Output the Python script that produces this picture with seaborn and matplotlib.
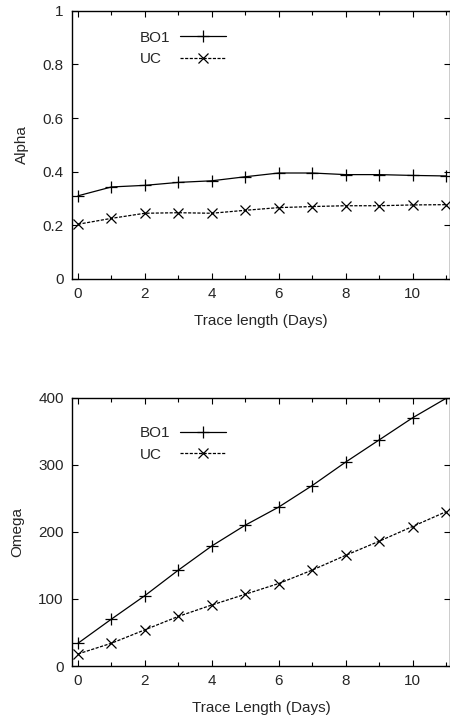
import pandas as pd
import matplotlib
matplotlib.use('Agg')
import matplotlib.pyplot as plt
import seaborn as sns
from matplotlib.ticker import MultipleLocator

# --- Data ---
days = list(range(12))
alpha_bo1 = [0.31, 0.343, 0.349, 0.36, 0.366, 0.381, 0.395, 0.395, 0.389, 0.389, 0.386, 0.384]
alpha_uc = [0.204, 0.226, 0.245, 0.247, 0.245, 0.256, 0.266, 0.27, 0.273, 0.273, 0.276, 0.277]
omega_bo1 = [34, 70, 105, 143, 179, 210, 237, 269, 304, 337, 370, 399]
omega_uc = [18, 34, 54, 74, 91, 107, 123, 143, 165, 186, 208, 230]

sns.set_style('ticks')
plt.rcParams['font.family'] = ['Liberation Sans', 'DejaVu Sans']
plt.rcParams['font.size'] = 11

fig = plt.figure(figsize=(4.5, 7.17), dpi=100)
ax1 = fig.add_axes([0.16, 0.6109, 0.84, 0.3742])
ax2 = fig.add_axes([0.16, 0.0711, 0.84, 0.3742])


def draw(ax, bo1, uc, ylim, ystep, ylabel, xlabel, fmt, leg_y):
    df = pd.DataFrame({'day': days, 'BO1': bo1, 'UC': uc})
    sns.lineplot(x='day', y='BO1', data=df, ax=ax, color='black', lw=0.9,
                 marker='+', markersize=9, mew=0.9, mec='black', label='BO1')
    sns.lineplot(x='day', y='UC', data=df, ax=ax, color='black', lw=0.9,
                 linestyle=(0, (2.5, 1.2)), marker='x', markersize=7, mew=0.9,
                 mec='black', label='UC')
    ax.set_xlim(-0.18, 11.12)
    ax.set_ylim(*ylim)
    ax.xaxis.set_major_locator(MultipleLocator(2))
    ax.xaxis.set_minor_locator(MultipleLocator(1))
    ax.yaxis.set_major_locator(MultipleLocator(ystep))
    ax.yaxis.set_major_formatter(fmt)
    ax.tick_params(which='both', direction='in', top=True, right=True,
                   labelsize=11, color='black', width=0.8)
    ax.tick_params(which='major', length=4, pad=6)
    ax.tick_params(which='minor', length=3)
    for s in ax.spines.values():
        s.set_color('black')
        s.set_linewidth(1.0)
    ax.set_xlabel(xlabel, fontsize=11, labelpad=9)
    ax.set_ylabel(ylabel, fontsize=11, labelpad=10)
    return ax.legend(loc='upper left', bbox_to_anchor=(0.18, leg_y), frameon=False,
                     markerfirst=False, handlelength=3.0, fontsize=11, borderpad=0,
                     borderaxespad=0, labelspacing=0.5, handletextpad=0.6)


legs = [
    draw(ax1, alpha_bo1, alpha_uc, (0, 1), 0.2, 'Alpha', 'Trace length (Days)',
         lambda v, p: '0' if abs(v) < 1e-9 else ('1' if abs(v - 1) < 1e-9 else f'{v:.1f}'),
         0.926),
    draw(ax2, omega_bo1, omega_uc, (0, 400), 100, 'Omega', 'Trace Length (Days)',
         lambda v, p: f'{v:.0f}', 0.895),
]

# legend labels left-aligned (gnuplot style), samples stay aligned on the right
fig.canvas.draw()
for leg in legs:
    texts = leg.get_texts()
    x_left = min(t.get_window_extent().x0 for t in texts)
    for t in texts:
        dx = t.get_window_extent().x0 - x_left
        t.set_position((-dx, 0))

fig.savefig('out.png', dpi=100)
